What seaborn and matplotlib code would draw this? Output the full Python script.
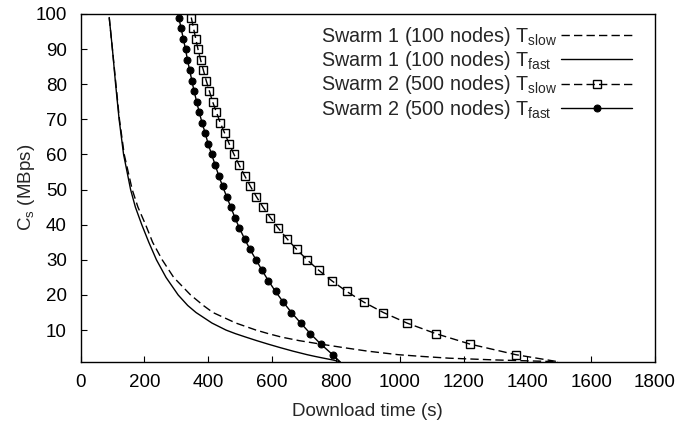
import matplotlib
matplotlib.use("Agg")
import matplotlib.pyplot as plt
import seaborn as sns
import pandas as pd

# Server capacity C_s (MBps) sampled for each swarm
cs_swarm1 = [99, 90, 80, 70, 60, 50, 45, 40, 35, 30, 25, 20, 17, 15, 12,
             10, 9, 8, 7, 6, 5, 4, 3, 2.5, 2, 1.5, 1]
cs_swarm2 = [99, 96, 93, 90, 87, 84, 81, 78, 75, 72, 69, 66, 63, 60, 57,
             54, 51, 48, 45, 42, 39, 36, 33, 30, 27, 24, 21, 18, 15, 12,
             9, 6, 3, 1]

# Download times (s)
t_swarm1_slow = [90, 100, 111, 122, 137, 162, 180, 204, 226, 256, 292, 345,
                 385, 415, 487, 550, 588, 630, 685, 753, 825, 900, 995, 1070,
                 1155, 1300, 1496]
t_swarm1_fast = [90, 100, 110, 121, 135, 157, 172, 192, 214, 238, 268, 306,
                 336, 362, 412, 456, 485, 518, 552, 588, 626, 666, 710, 735,
                 762, 790, 813]
t_swarm2_slow = [347, 354, 361, 368, 376, 385, 394, 404, 414, 426, 438, 452,
                 466, 481, 497, 514, 532, 551, 572, 595, 620, 647, 677, 710,
                 747, 788, 834, 887, 949, 1023, 1113, 1221, 1364, 1496]
t_swarm2_fast = [308, 315, 322, 329, 335, 342, 349, 356, 364, 372, 381, 391,
                 400, 411, 422, 433, 445, 458, 471, 484, 498, 514, 531, 550,
                 569, 589, 611, 635, 661, 690, 720, 753, 790, 813]

labels = [
    r"Swarm 1 (100 nodes) T$_{\mathrm{slow}}$",
    r"Swarm 1 (100 nodes) T$_{\mathrm{fast}}$",
    r"Swarm 2 (500 nodes) T$_{\mathrm{slow}}$",
    r"Swarm 2 (500 nodes) T$_{\mathrm{fast}}$",
]
x_ticks = [0, 200, 400, 600, 800, 1000, 1200, 1400, 1600, 1800]
y_ticks = [10, 20, 30, 40, 50, 60, 70, 80, 90, 100]

sns.set_theme(style="ticks")
plt.rcParams["font.family"] = ["Liberation Sans", "DejaVu Sans"]
plt.rcParams["mathtext.fontset"] = "custom"
plt.rcParams["mathtext.rm"] = "Liberation Sans"
plt.rcParams["mathtext.it"] = "Liberation Sans:italic"
plt.rcParams["mathtext.bf"] = "Liberation Sans:bold"

fig = plt.figure(figsize=(6.93, 4.24), dpi=100)
ax = fig.add_axes([80.5 / 693, 1 - 361.7 / 424, (655 - 80.5) / 693, (361.7 - 14) / 424])

dash = (0, (6, 3))
series = [
    (t_swarm1_slow, cs_swarm1, dict(linestyle=dash)),
    (t_swarm1_fast, cs_swarm1, dict(linestyle="-")),
    (t_swarm2_slow, cs_swarm2, dict(linestyle=dash, marker="s", markersize=6,
                                    markerfacecolor="none", markeredgecolor="black",
                                    markeredgewidth=1.0,
                                    markevery=list(range(len(cs_swarm2) - 1)))),
    (t_swarm2_fast, cs_swarm2, dict(linestyle="-", marker="o", markersize=5,
                                    markerfacecolor="black", markeredgecolor="black",
                                    markevery=list(range(len(cs_swarm2) - 1)))),
]
for (t, cs, style), lab in zip(series, labels):
    df = pd.DataFrame({"time": t, "cs": cs})
    sns.lineplot(data=df, x="time", y="cs", sort=False, estimator=None,
                 color="black", linewidth=1.0, label=lab, ax=ax, **style)

ax.set_xlim(0, 1800)
ax.set_ylim(1, 100)
ax.set_xticks(x_ticks)
ax.set_yticks(y_ticks)
ax.tick_params(direction="in", length=4.5, width=0.8, labelsize=13.5,
               colors="black", top=False, right=False)
ax.tick_params(axis="x", pad=8.8)
ax.tick_params(axis="y", pad=9.8)
for sp in ax.spines.values():
    sp.set_visible(True)
    sp.set_linewidth(1.0)
    sp.set_color("black")

ax.set_xlabel("Download time (s)", fontsize=13.5, labelpad=8.5)
ax.set_ylabel(r"C$_{\mathrm{s}}$ (MBps)", fontsize=13.5, labelpad=-1)

handles, labs = ax.get_legend_handles_labels()
leg = ax.legend(handles, labs, loc="upper right", bbox_to_anchor=(0.96, 0.968),
                frameon=False, markerfirst=False, handlelength=3.6,
                borderpad=0, borderaxespad=0, labelspacing=0.06, handletextpad=0.2,
                fontsize=14.2)

# Left-align the legend labels while keeping the line samples in one column
fig.canvas.draw()
renderer = fig.canvas.get_renderer()
widths = [t.get_window_extent(renderer).width for t in leg.get_texts()]
rows = leg._legend_handle_box.get_children()[0].get_children()
for row, w in zip(rows, widths):
    row.sep += (max(widths) - w) * 72.0 / fig.dpi

fig.savefig("out.png", dpi=100)
